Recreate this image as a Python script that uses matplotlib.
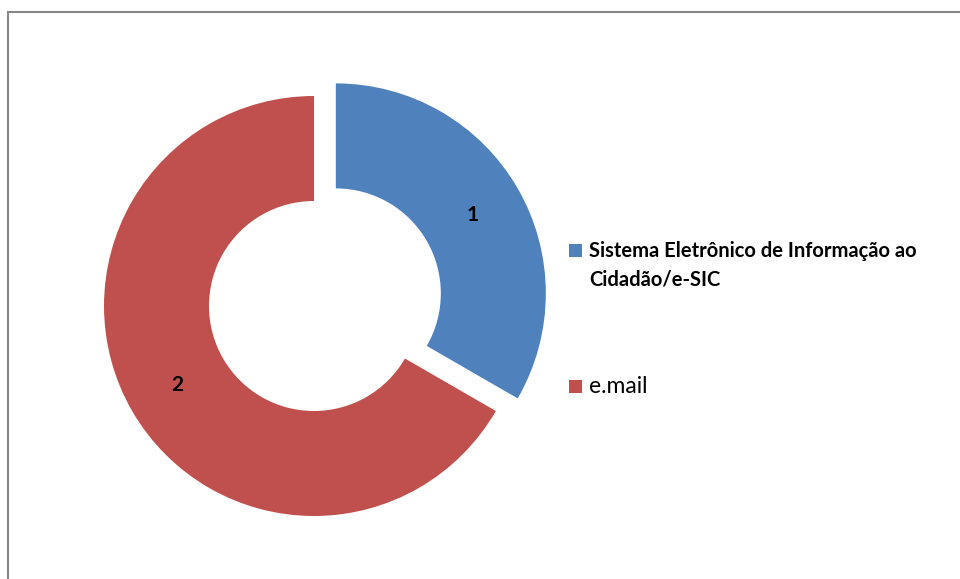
import matplotlib.pyplot as plt
from matplotlib.lines import Line2D
from matplotlib.patches import Rectangle
from matplotlib.legend_handler import HandlerPatch

# Dados do gráfico
categorias = ["Sistema Eletrônico de Informação ao\nCidadão/e-SIC", "e.mail"]
valores = [1, 2]
rotulos = ["1", "2"]
cores = ["#4F81BD", "#C0504D"]
destaque = [0.12, 0.0]

plt.rcParams['font.family'] = ['Lato', 'DejaVu Sans']


class Quadrado(HandlerPatch):
    # quadradinho da legenda, com deslocamento vertical (pt)
    def __init__(self, desloc=0.0):
        super().__init__()
        self.desloc = desloc

    def create_artists(self, legend, orig_handle, xdescent, ydescent,
                       width, height, fontsize, trans):
        p = Rectangle((-xdescent, -ydescent + self.desloc), width, height,
                      facecolor=orig_handle.get_facecolor(), lw=0, transform=trans)
        return [p]


W, H = 960, 579
fig = plt.figure(figsize=(W / 100, H / 100), dpi=100)
fig.patch.set_facecolor("white")

# moldura (só topo e esquerda aparecem no recorte)
fig.add_artist(Line2D([8 / W, 8 / W], [0, 1 - 12 / H], color="#868686", lw=1.5))
fig.add_artist(Line2D([8 / W, 1], [1 - 12 / H, 1 - 12 / H], color="#868686", lw=1.5))

# eixo da rosca: centro em (314, 306) px, raio 210 px
r_px = 210
cx, cy = 314, 306
lado = 480
ax = fig.add_axes([(cx - lado / 2) / W, (H - cy - lado / 2) / H, lado / W, lado / H])
lim = lado / 2 / r_px

wedges, texts = ax.pie(
    valores,
    colors=cores,
    explode=destaque,
    startangle=90,
    counterclock=False,
    radius=1.0,
    wedgeprops=dict(width=0.5, linewidth=0),
    labels=rotulos,
    labeldistance=0.75,
    textprops=dict(fontsize=15, color="black", ha="center", va="center"),
)
for t in texts:
    t.set_fontweight("bold")
ax.set_xlim(-lim, lim)
ax.set_ylim(-lim, lim)
ax.set_aspect("equal")
ax.axis("off")

leg = fig.legend(
    wedges, categorias,
    loc="upper left",
    bbox_to_anchor=(569 / W, 1 - 241 / H),
    frameon=False,
    fontsize=14.5,
    handlelength=0.65,
    handleheight=0.65,
    handletextpad=0.35,
    labelspacing=4.3,
    borderpad=0,
    borderaxespad=0,
    handler_map={wedges[0]: Quadrado(11.3), wedges[1]: Quadrado(0.0)},
)
txt = leg.get_texts()
txt[0].set_fontweight("bold")
txt[0].set_linespacing(1.55)
txt[1].set_fontsize(16.5)

fig.savefig("out.png", dpi=100)
